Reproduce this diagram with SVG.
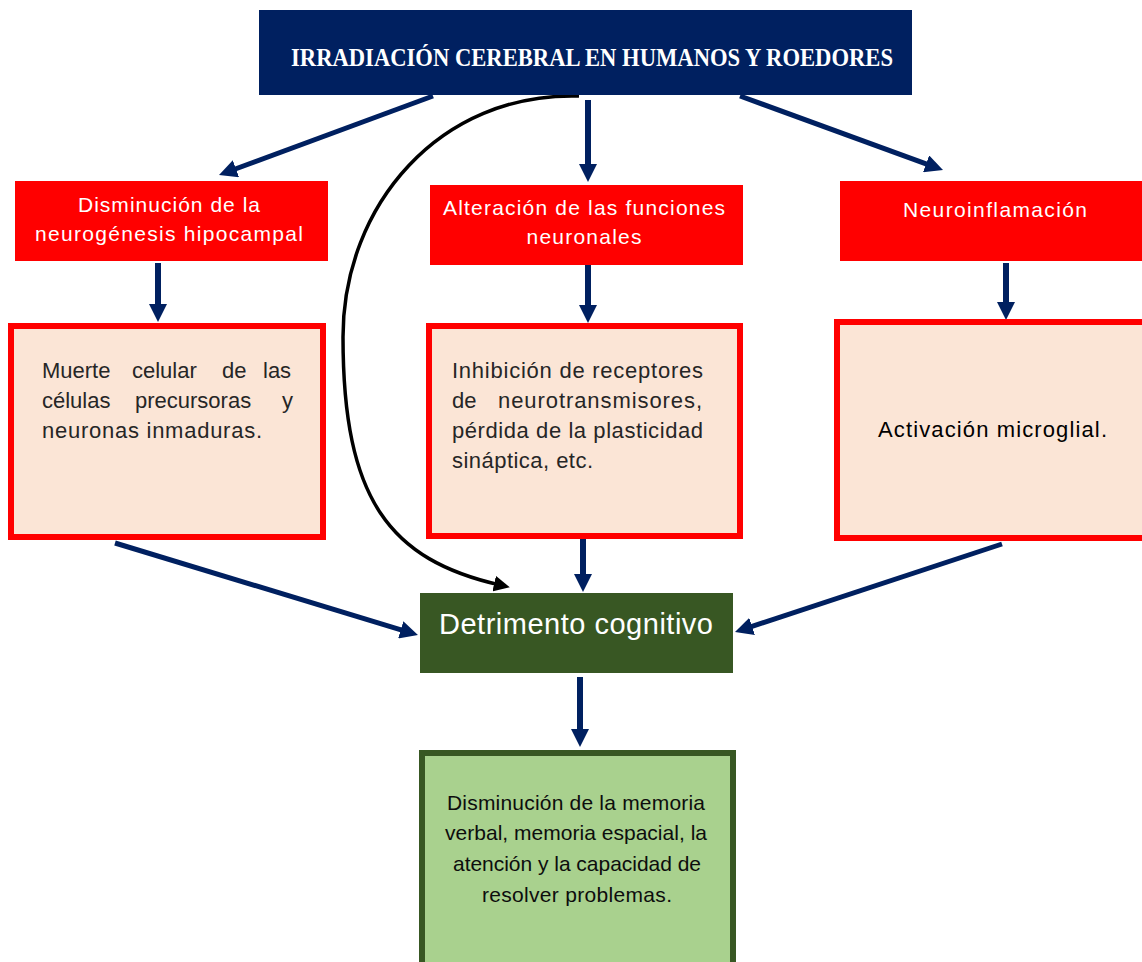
<svg xmlns="http://www.w3.org/2000/svg" width="1142" height="962" viewBox="0 0 1142 962">
<style>
.navy{fill:#002060}
.red{fill:#FF0000}
.pink{fill:#FBE5D6;stroke:#FF0000;stroke-width:6}
.dg{fill:#385723}
.lg{fill:#A9D18E;stroke:#385723;stroke-width:6}
.title{font-family:"Liberation Serif",serif;font-weight:bold;font-size:25px;fill:#ffffff}
.wt{font-family:"Liberation Sans",Arial,sans-serif;font-size:21px;fill:#ffffff}
.din{font-family:"Liberation Sans",Arial,sans-serif;font-size:22px;fill:#262626}
.dinb{font-family:"Liberation Sans",Arial,sans-serif;font-size:22px;fill:#000000;font-weight:500}
.cal{font-family:"Liberation Sans",Arial,sans-serif;font-size:21px;fill:#0d0d0d}
.calw{font-family:"Liberation Sans",Arial,sans-serif;font-size:29px;fill:#ffffff}
.arr{stroke:#002060;stroke-width:6;fill:none;marker-end:url(#ah)}
.curve{stroke:#000000;stroke-width:3.5;fill:none;marker-end:url(#ahb)}
</style>
<defs>
<marker id="ah" markerUnits="userSpaceOnUse" markerWidth="18" markerHeight="18" refX="8" refY="9" orient="auto">
<path d="M0,0 L18,9 L0,18 z" fill="#002060"/>
</marker>
<marker id="ahb" markerUnits="userSpaceOnUse" markerWidth="16" markerHeight="16" refX="6" refY="8" orient="auto">
<path d="M0,0 L16,8 L0,16 z" fill="#000000"/>
</marker>
</defs>
<rect width="1142" height="962" fill="#ffffff"/>

<g id="connectors">
<line class="arr" x1="433" y1="96" x2="228.4" y2="171.5" style="stroke-width:5"/>
<line class="arr" x1="588" y1="100" x2="588" y2="172"/>
<line class="arr" x1="740" y1="96" x2="933.6" y2="166.6" style="stroke-width:5"/>
<line class="arr" x1="158" y1="263" x2="158" y2="312"/>
<line class="arr" x1="588" y1="265" x2="588" y2="313"/>
<line class="arr" x1="1006" y1="263" x2="1006" y2="310"/>
<line class="arr" x1="115" y1="543" x2="408.4" y2="632.1" style="stroke-width:5"/>
<line class="arr" x1="583" y1="538" x2="583" y2="582"/>
<line class="arr" x1="1002" y1="544" x2="744.5" y2="628.9" style="stroke-width:5"/>
<line class="arr" x1="580" y1="677" x2="580" y2="737"/>
<path class="curve" d="M579,96 C440,92 343,205 343,337 C343,500 390,560 500,585"/>
</g>

<g id="title">
<rect class="navy" x="259" y="10" width="653" height="85"/>
<text class="title" x="592" y="66" text-anchor="middle" textLength="602" lengthAdjust="spacingAndGlyphs">IRRADIACIÓN CEREBRAL EN HUMANOS Y ROEDORES</text>
</g>

<g id="neurogenesis">
<rect class="red" x="15" y="181" width="313" height="80"/>
<text class="wt" x="169" y="212" text-anchor="middle" textLength="182" lengthAdjust="spacing">Disminución de la</text>
<text class="wt" x="169" y="241" text-anchor="middle" textLength="268" lengthAdjust="spacing">neurogénesis hipocampal</text>
</g>

<g id="funciones">
<rect class="red" x="430" y="185" width="313" height="80"/>
<text class="wt" x="584" y="215" text-anchor="middle" textLength="282" lengthAdjust="spacing">Alteración de las funciones</text>
<text class="wt" x="584" y="244" text-anchor="middle" textLength="115" lengthAdjust="spacing">neuronales</text>
</g>

<g id="neuroinflamacion">
<rect class="red" x="840" y="181" width="302" height="80"/>
<text class="wt" x="995" y="217" text-anchor="middle" textLength="184" lengthAdjust="spacing">Neuroinflamación</text>
</g>

<g id="muerte">
<rect class="pink" x="11" y="326" width="312" height="211"/>
<text class="din" y="378"><tspan x="42">Muerte</tspan><tspan x="132">celular</tspan><tspan x="222">de</tspan><tspan x="263">las</tspan></text>
<text class="din" y="408"><tspan x="42">células</tspan><tspan x="135">precursoras</tspan><tspan x="282">y</tspan></text>
<text class="din" x="42" y="438" textLength="220" lengthAdjust="spacing">neuronas inmaduras.</text>
</g>

<g id="inhibicion">
<rect class="pink" x="429" y="326" width="311" height="210"/>
<text class="din" x="452" y="378" textLength="251" lengthAdjust="spacing">Inhibición de receptores</text>
<text class="din" y="408"><tspan x="452">de</tspan><tspan x="498" textLength="204" lengthAdjust="spacing">neurotransmisores,</tspan></text>
<text class="din" x="452" y="438" textLength="251" lengthAdjust="spacing">pérdida de la plasticidad</text>
<text class="din" x="452" y="468" textLength="141" lengthAdjust="spacing">sináptica, etc.</text>
</g>

<g id="microglial">
<rect class="pink" x="837" y="322" width="310" height="216"/>
<text class="dinb" x="878" y="437" textLength="229" lengthAdjust="spacing">Activación microglial.</text>
</g>

<g id="detrimento">
<rect class="dg" x="420" y="593" width="313" height="80"/>
<text class="calw" x="576" y="634" text-anchor="middle" textLength="274" lengthAdjust="spacing">Detrimento cognitivo</text>
</g>

<g id="memoria">
<rect class="lg" x="422" y="753" width="311" height="215"/>
<text class="cal" x="576" y="810" text-anchor="middle" textLength="258" lengthAdjust="spacing">Disminución de la memoria</text>
<text class="cal" x="576" y="840" text-anchor="middle" textLength="262" lengthAdjust="spacing">verbal, memoria espacial, la</text>
<text class="cal" x="577" y="871" text-anchor="middle" textLength="248" lengthAdjust="spacing">atención y la capacidad de</text>
<text class="cal" x="577" y="902" text-anchor="middle" textLength="190" lengthAdjust="spacing">resolver problemas.</text>
</g>
</svg>
